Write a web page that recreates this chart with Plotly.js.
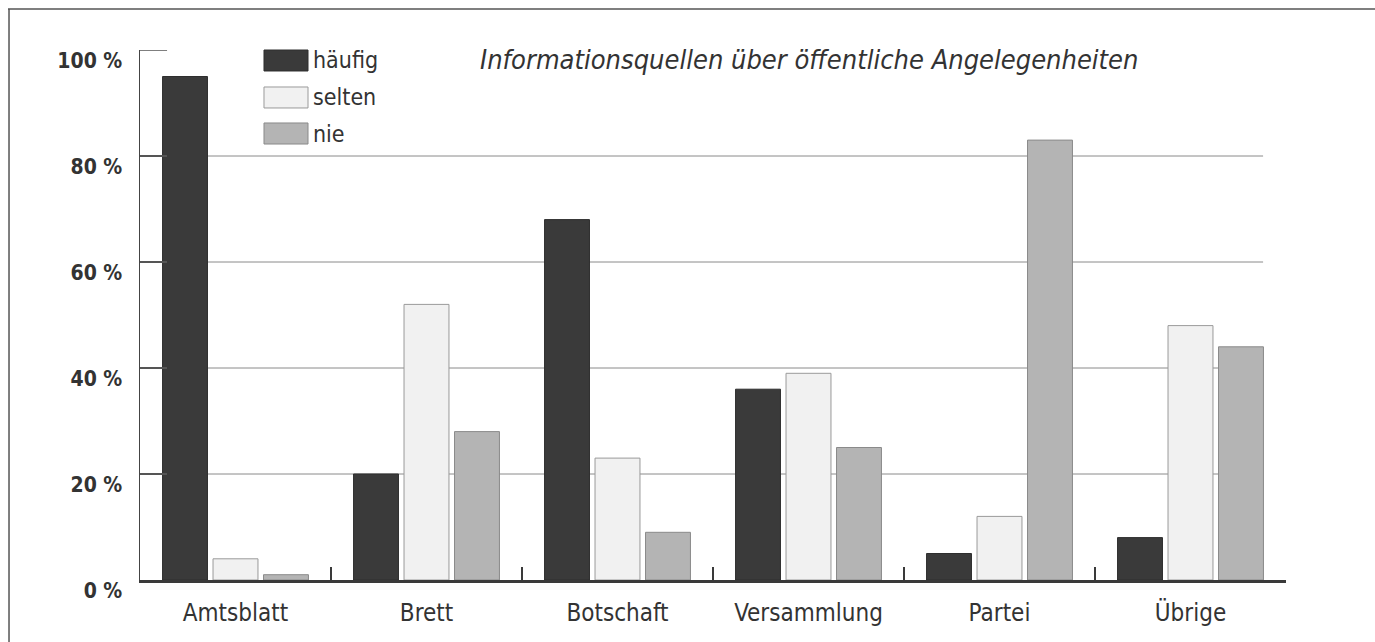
<!DOCTYPE html>
<html>
<head>
<meta charset="utf-8">
<script src="https://cdn.plot.ly/plotly-3.0.1.min.js"></script>
<style>html,body{margin:0;padding:0;background:#fff;}#chart{width:1375px;height:642px;}</style>
</head>
<body>
<div id="chart"></div>
<script>
// ---- data ----
const categories = ["Amtsblatt", "Brett", "Botschaft", "Versammlung", "Partei", "Übrige"];
const haeufig = [95, 20, 68, 36, 5, 8];
const selten  = [4, 52, 23, 39, 12, 48];
const nie     = [1, 28, 9, 25, 83, 44];
const seriesNames = ["häufig", "selten", "nie"];
const yTickVals = [0, 20, 40, 60, 80, 100];
const yTickText = ["0 %", "20 %", "40 %", "60 %", "80 %", "100 %"];
const gridVals = [20, 40, 60, 80];
const titleText = "Informationsquellen über öffentliche Angelegenheiten";

// ---- styles ----
const FONT = "'Liberation Sans Narrow', 'DejaVu Sans Condensed', 'Arial Narrow', sans-serif";
const TXT = "#333333";
const fills = ["#3a3a3a", "#f1f1f1", "#b4b4b4"];
const lines = ["#2e2e2e", "#9a9a9a", "#8a8a8a"];

const values = [haeufig, selten, nie];
const traces = values.map((v, i) => ({
  type: "bar",
  x: categories,
  y: v,
  name: seriesNames[i],
  marker: {color: fills[i], line: {color: lines[i], width: 1}},
  showlegend: false,
  hoverinfo: "x+y+name"
}));

const shapes = [];
gridVals.forEach(g => shapes.push({
  type: "line", xref: "paper", yref: "y", x0: 0, x1: 0.98, y0: g, y1: g,
  line: {color: "#8a8a8a", width: 1}, layer: "below"
}));
// short tick at the top of the y axis
shapes.push({type: "line", xref: "paper", yref: "y", x0: 0, x1: 0.0236,
  y0: yTickVals[yTickVals.length - 1], y1: yTickVals[yTickVals.length - 1],
  line: {color: "#555", width: 1.5}});
// outer frame (top and left edges)
shapes.push({type: "line", xref: "paper", yref: "paper", x0: -0.1152, x1: 1.08, y0: 1.0774, y1: 1.0774,
  line: {color: "#555", width: 1.5}});
shapes.push({type: "line", xref: "paper", yref: "paper", x0: -0.1143, x1: -0.1143, y0: 1.0774, y1: -0.12,
  line: {color: "#555", width: 1.5}});

// custom legend
const legY = [[1.0, 0.9604], [0.9302, 0.8906], [0.8623, 0.8226]];
const annotations = [];
seriesNames.forEach((n, i) => {
  shapes.push({type: "rect", xref: "paper", yref: "paper", x0: 0.1082, x1: 0.1466,
    y0: legY[i][1], y1: legY[i][0], fillcolor: fills[i], line: {color: lines[i], width: 1}});
  annotations.push({xref: "paper", yref: "paper", x: 0.1495, y: (legY[i][0] + legY[i][1]) / 2,
    xanchor: "left", yanchor: "middle", text: n, showarrow: false,
    font: {family: FONT, size: 23, color: TXT}});
});
annotations.push({xref: "paper", yref: "paper", x: 0.2949, y: 0.983, xanchor: "left", yanchor: "middle",
  text: "<i>" + titleText + "</i>", showarrow: false,
  font: {family: FONT, size: 27, color: TXT}});

const layout = {
  width: 1375, height: 642,
  margin: {l: 140, r: 89, t: 50, b: 62},
  paper_bgcolor: "#fff", plot_bgcolor: "#fff",
  barmode: "group", bargap: 0.207, bargroupgap: 0.11,
  showlegend: false,
  font: {family: FONT, color: TXT},
  xaxis: {
    type: "category", showgrid: false, zeroline: false,
    showline: true, linecolor: "#3a3a3a", linewidth: 2.5,
    ticks: "inside", tickson: "boundaries", ticklen: 13, tickwidth: 1.5, tickcolor: "#3a3a3a",
    tickfont: {family: FONT, size: 24, color: TXT},
    ticklabelstandoff: 10
  },
  yaxis: {
    range: [0, 100], showgrid: false, zeroline: false,
    showline: true, linecolor: "#444", linewidth: 1.5,
    tickmode: "array", tickvals: yTickVals, ticktext: yTickText,
    ticks: "inside", ticklen: 27, tickwidth: 1.5, tickcolor: "#555",
    tickfont: {family: FONT, size: 21, color: TXT, weight: "bold"},
    ticklabelshift: 11, ticklabelstandoff: 12
  },
  shapes: shapes,
  annotations: annotations
};

Plotly.newPlot("chart", traces, layout, {displayModeBar: false, staticPlot: true});
</script>
</body>
</html>
